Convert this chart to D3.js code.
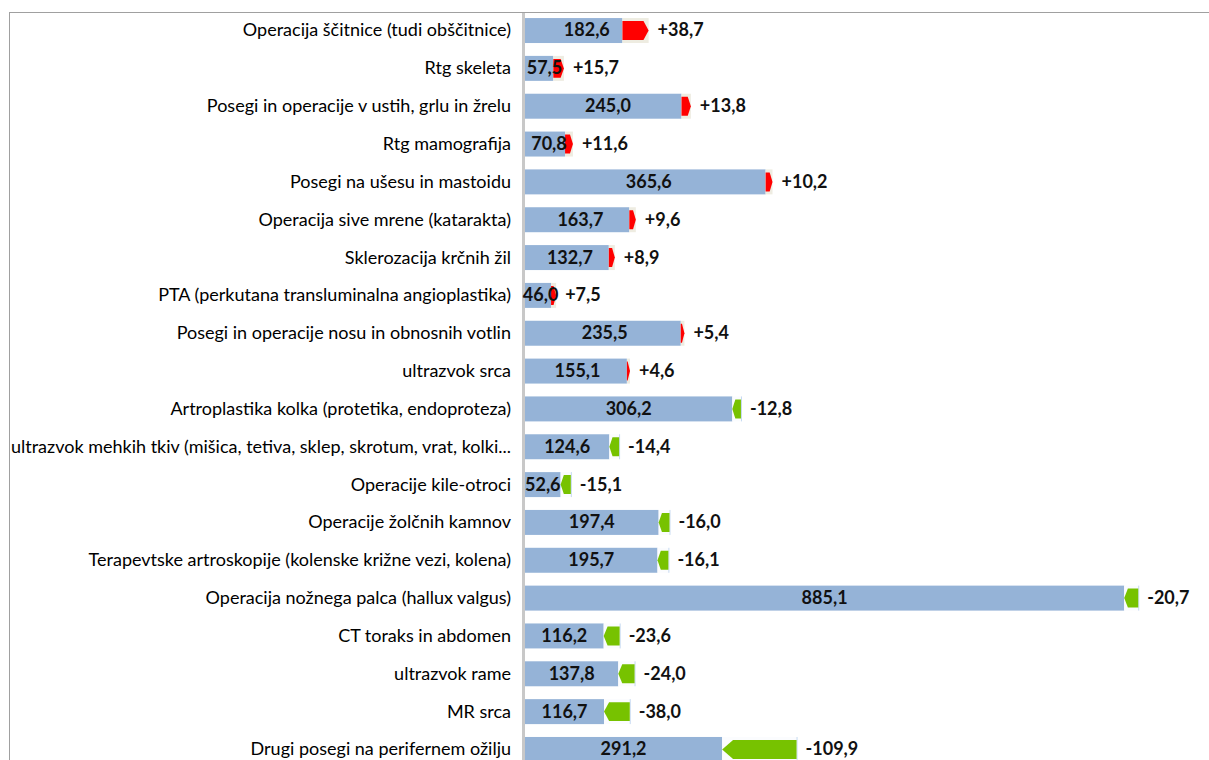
<!DOCTYPE html>
<html>
<head>
<meta charset="utf-8">
<script src="https://cdn.jsdelivr.net/npm/d3@7"></script>
<style>
  body { margin: 0; background: #fff; }
  svg { display: block; }
</style>
</head>
<body>
<div id="chart"></div>
<script>
const categories = [
  'Operacija ščitnice (tudi obščitnice)',
  'Rtg skeleta',
  'Posegi in operacije v ustih, grlu in žrelu',
  'Rtg mamografija',
  'Posegi na ušesu in mastoidu',
  'Operacija sive mrene (katarakta)',
  'Sklerozacija krčnih žil',
  'PTA (perkutana transluminalna angioplastika)',
  'Posegi in operacije nosu in obnosnih votlin',
  'ultrazvok srca',
  'Artroplastika kolka (protetika, endoproteza)',
  'ultrazvok mehkih tkiv (mišica, tetiva, sklep, skrotum, vrat, kolki...',
  'Operacije kile-otroci',
  'Operacije žolčnih kamnov',
  'Terapevtske artroskopije (kolenske križne vezi, kolena)',
  'Operacija nožnega palca (hallux valgus)',
  'CT toraks in abdomen',
  'ultrazvok rame',
  'MR srca',
  'Drugi posegi na perifernem ožilju'
];

// current value
const values = [182.6, 57.5, 245.0, 70.8, 365.6, 163.7, 132.7, 46.0, 235.5, 155.1,
  306.2, 124.6, 52.6, 197.4, 195.7, 885.1, 116.2, 137.8, 116.7, 291.2];

// change against previous period
const changes = [38.7, 15.7, 13.8, 11.6, 10.2, 9.6, 8.9, 7.5, 5.4, 4.6,
  -12.8, -14.4, -15.1, -16.0, -16.1, -20.7, -23.6, -24.0, -38.0, -109.9];

const xDomain = [0, 1000];

const width = 1209;
const height = 760;
const margin = { top: 12, left: 525, right: 7 };
const step = 37.8;
const font = 'Lato, "Open Sans", sans-serif';

const data = categories.map((name, i) => ({
  name: name,
  value: values[i],
  change: changes[i],
  prev: values[i] - changes[i]
}));

const fmt = (v) => v.toFixed(1).replace('.', ',');
const fmtChange = (v) => (v > 0 ? '+' : '') + fmt(v);

const svg = d3.select('#chart').append('svg')
  .attr('width', width)
  .attr('height', height);

const x = d3.scaleLinear()
  .domain(xDomain)
  .range([margin.left, width - margin.right]);

const y = d3.scaleBand()
  .domain(categories)
  .range([margin.top, margin.top + categories.length * step])
  .paddingInner(0.34)
  .paddingOuter(0.16);

// frame
svg.append('line')
  .attr('x1', 9.5).attr('x2', width)
  .attr('y1', margin.top + 0.5).attr('y2', margin.top + 0.5)
  .attr('stroke', '#a0a0a0');
svg.append('line')
  .attr('x1', 9.5).attr('x2', 9.5)
  .attr('y1', margin.top).attr('y2', height)
  .attr('stroke', '#a0a0a0');

// category axis
const yAxis = svg.append('g')
  .attr('transform', 'translate(' + (margin.left - 3) + ',0)')
  .call(d3.axisLeft(y).tickSize(0).tickPadding(11));
yAxis.select('.domain').remove();
yAxis.selectAll('text')
  .attr('font-family', font)
  .attr('font-size', '18px')
  .attr('dy', '0.33em')
  .attr('fill', '#000');

svg.append('line')
  .attr('x1', margin.left - 1.5).attr('x2', margin.left - 1.5)
  .attr('y1', margin.top + 1).attr('y2', height)
  .attr('stroke', '#c8c8c8')
  .attr('stroke-width', 3);

const rows = svg.selectAll('.row')
  .data(data)
  .enter()
  .append('g')
  .attr('class', 'row');

// base bar: previous value for increases, current value for decreases
rows.append('rect')
  .attr('x', x(0))
  .attr('y', (d) => y(d.name))
  .attr('width', (d) => x(Math.min(d.value, d.prev)) - x(0))
  .attr('height', y.bandwidth())
  .attr('fill', '#95b3d7');

// pale band behind the change
rows.append('rect')
  .attr('x', (d) => x(Math.min(d.value, d.prev)))
  .attr('y', (d) => y(d.name))
  .attr('width', (d) => Math.abs(x(d.value) - x(d.prev)))
  .attr('height', y.bandwidth())
  .attr('fill', (d) => d.change > 0 ? '#eeece1' : '#fbfcfe');

rows.filter((d) => d.change < 0)
  .append('line')
  .attr('x1', (d) => x(d.prev) + 0.5)
  .attr('x2', (d) => x(d.prev) + 0.5)
  .attr('y1', (d) => y(d.name))
  .attr('y2', (d) => y(d.name) + y.bandwidth())
  .attr('stroke', '#c5d9f1');

// change arrow
const inset = 3;
rows.append('path')
  .attr('fill', (d) => d.change > 0 ? '#ff0000' : '#77c200')
  .attr('d', (d) => {
    const x0 = x(d.prev);
    const x1 = x(d.value);
    const w = Math.abs(x1 - x0);
    const tip = 2 + w * 0.12;
    const dir = d.change > 0 ? 1 : -1;
    const top = y(d.name) + inset;
    const bot = y(d.name) + y.bandwidth() - inset;
    const mid = (top + bot) / 2;
    return 'M' + x0 + ',' + top +
      'L' + (x1 - dir * tip) + ',' + top +
      'L' + x1 + ',' + mid +
      'L' + (x1 - dir * tip) + ',' + bot +
      'L' + x0 + ',' + bot + 'Z';
  });

// value labels, centered on the current value bar
rows.append('text')
  .attr('x', (d) => (x(0) + x(d.value)) / 2)
  .attr('y', (d) => y(d.name) + y.bandwidth() / 2)
  .attr('dy', '0.33em')
  .attr('text-anchor', 'middle')
  .attr('font-family', font)
  .attr('font-size', '18px')
  .attr('font-weight', '700')
  .attr('fill', '#111')
  .text((d) => fmt(d.value));

// change labels
rows.append('text')
  .attr('x', (d) => x(Math.max(d.value, d.prev)) + 9)
  .attr('y', (d) => y(d.name) + y.bandwidth() / 2)
  .attr('dy', '0.33em')
  .attr('font-family', font)
  .attr('font-size', '18px')
  .attr('font-weight', '700')
  .attr('fill', '#111')
  .text((d) => fmtChange(d.change));
</script>
</body>
</html>
